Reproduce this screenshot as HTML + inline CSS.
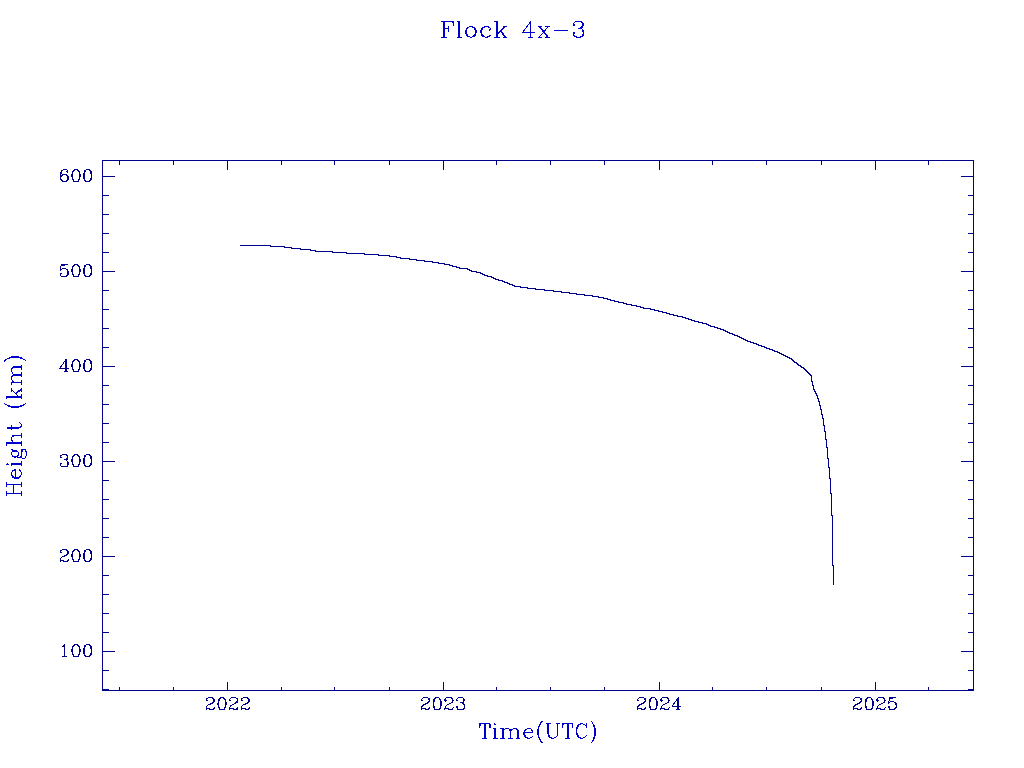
<!DOCTYPE html>
<html><head><meta charset="utf-8"><title>Flock 4x-3</title>
<style>
html,body{margin:0;padding:0;background:#fff;overflow:hidden;font-family:"Liberation Serif",serif}
svg{display:block}
</style></head><body>
<svg width="1024" height="768" viewBox="0 0 1024 768" shape-rendering="crispEdges">
<rect width="1024" height="768" fill="#ffffff"/>
<path fill="#00008b" d="M102 160h872v1h-872zM102 161h1v15h-1zM119 161h1v4h-1zM173 161h1v4h-1zM227 161h1v9h-1zM281 161h1v4h-1zM334 161h1v4h-1zM389 161h1v4h-1zM443 161h1v9h-1zM496 161h1v4h-1zM550 161h1v4h-1zM604 161h1v4h-1zM659 161h1v9h-1zM712 161h1v4h-1zM766 161h1v4h-1zM821 161h1v4h-1zM875 161h1v9h-1zM928 161h1v4h-1zM973 161h1v15h-1zM63 169h4v1h-4zM74 169h4v1h-4zM86 169h4v1h-4zM61 170h2v1h-2zM67 170h1v1h-1zM73 170h2v1h-2zM77 170h2v1h-2zM84 170h2v2h-2zM89 170h2v1h-2zM61 171h1v1h-1zM66 171h2v1h-2zM72 171h2v1h-2zM78 171h2v1h-2zM90 171h2v3h-2zM60 172h2v2h-2zM67 172h1v1h-1zM72 172h1v2h-1zM79 172h1v2h-1zM84 172h1v1h-1zM83 173h2v6h-2zM60 174h1v1h-1zM62 174h5v1h-5zM71 174h2v3h-2zM79 174h2v3h-2zM91 174h1v4h-1zM60 175h3v1h-3zM66 175h2v1h-2zM60 176h2v1h-2zM67 176h2v4h-2zM102 176h13v1h-13zM961 176h13v1h-13zM60 177h1v2h-1zM72 177h1v2h-1zM79 177h1v2h-1zM102 177h1v18h-1zM973 177h1v18h-1zM90 178h2v2h-2zM60 179h2v1h-2zM72 179h2v1h-2zM78 179h2v1h-2zM84 179h1v1h-1zM61 180h2v1h-2zM66 180h2v1h-2zM73 180h1v1h-1zM78 180h1v1h-1zM84 180h2v1h-2zM89 180h2v1h-2zM62 181h5v1h-5zM73 181h6v1h-6zM85 181h5v1h-5zM102 195h7v1h-7zM968 195h6v1h-6zM102 196h1v18h-1zM973 196h1v18h-1zM102 214h7v1h-7zM968 214h6v1h-6zM102 215h1v18h-1zM973 215h1v18h-1zM102 233h7v1h-7zM968 233h6v1h-6zM102 234h1v18h-1zM973 234h1v18h-1zM102 252h7v1h-7zM968 252h6v1h-6zM102 253h1v18h-1zM973 253h1v18h-1zM61 264h7v1h-7zM74 264h4v1h-4zM86 264h4v1h-4zM61 265h4v1h-4zM73 265h2v1h-2zM77 265h2v1h-2zM84 265h2v2h-2zM89 265h2v1h-2zM60 266h1v3h-1zM72 266h2v1h-2zM78 266h2v1h-2zM90 266h2v3h-2zM72 267h1v2h-1zM79 267h1v2h-1zM84 267h1v1h-1zM62 268h4v1h-4zM83 268h2v6h-2zM60 269h2v1h-2zM66 269h2v1h-2zM71 269h2v3h-2zM79 269h2v3h-2zM91 269h1v4h-1zM60 270h1v1h-1zM67 270h1v1h-1zM67 271h2v4h-2zM102 271h13v1h-13zM961 271h13v1h-13zM72 272h1v2h-1zM79 272h1v2h-1zM102 272h1v18h-1zM973 272h1v18h-1zM60 273h2v1h-2zM90 273h2v2h-2zM60 274h1v2h-1zM72 274h2v1h-2zM78 274h2v1h-2zM84 274h1v1h-1zM66 275h2v1h-2zM73 275h1v1h-1zM78 275h1v1h-1zM84 275h2v1h-2zM89 275h2v1h-2zM61 276h6v1h-6zM73 276h6v1h-6zM85 276h5v1h-5zM102 290h7v1h-7zM968 290h6v1h-6zM102 291h1v18h-1zM973 291h1v18h-1zM102 309h7v1h-7zM968 309h6v1h-6zM102 310h1v18h-1zM973 310h1v18h-1zM102 328h7v1h-7zM968 328h6v1h-6zM102 329h1v18h-1zM973 329h1v18h-1zM102 347h7v1h-7zM968 347h6v1h-6zM102 348h1v18h-1zM973 348h1v18h-1zM65 359h2v2h-2zM74 359h4v1h-4zM86 359h4v1h-4zM73 360h2v1h-2zM77 360h2v1h-2zM84 360h2v2h-2zM89 360h2v1h-2zM64 361h3v1h-3zM72 361h2v1h-2zM78 361h2v1h-2zM90 361h2v3h-2zM63 362h1v2h-1zM65 362h2v6h-2zM72 362h1v2h-1zM79 362h1v2h-1zM84 362h1v1h-1zM83 363h2v6h-2zM62 364h1v1h-1zM71 364h2v3h-2zM79 364h2v3h-2zM91 364h1v4h-1zM61 365h1v1h-1zM60 366h2v1h-2zM102 366h13v1h-13zM961 366h13v1h-13zM60 367h1v1h-1zM72 367h1v2h-1zM79 367h1v2h-1zM102 367h1v18h-1zM973 367h1v18h-1zM59 368h10v1h-10zM90 368h2v2h-2zM65 369h2v2h-2zM72 369h2v1h-2zM78 369h2v1h-2zM84 369h1v1h-1zM73 370h1v1h-1zM78 370h1v1h-1zM84 370h2v1h-2zM89 370h2v1h-2zM64 371h4v1h-4zM73 371h6v1h-6zM85 371h5v1h-5zM102 385h7v1h-7zM968 385h6v1h-6zM102 386h1v18h-1zM973 386h1v18h-1zM102 404h7v1h-7zM968 404h6v1h-6zM102 405h1v18h-1zM973 405h1v18h-1zM102 423h7v1h-7zM968 423h6v1h-6zM102 424h1v18h-1zM973 424h1v18h-1zM102 442h7v1h-7zM968 442h6v1h-6zM102 443h1v18h-1zM973 443h1v18h-1zM62 454h5v1h-5zM74 454h4v1h-4zM86 454h4v1h-4zM60 455h2v1h-2zM66 455h2v1h-2zM73 455h2v1h-2zM77 455h2v1h-2zM84 455h2v2h-2zM89 455h2v1h-2zM60 456h1v1h-1zM67 456h1v2h-1zM72 456h2v1h-2zM78 456h2v1h-2zM90 456h2v3h-2zM60 457h2v1h-2zM72 457h1v2h-1zM79 457h1v2h-1zM84 457h1v1h-1zM66 458h2v1h-2zM83 458h2v6h-2zM64 459h4v1h-4zM71 459h2v3h-2zM79 459h2v3h-2zM91 459h1v4h-1zM66 460h1v1h-1zM67 461h1v1h-1zM102 461h13v1h-13zM961 461h13v1h-13zM67 462h2v3h-2zM72 462h1v2h-1zM79 462h1v2h-1zM102 462h1v18h-1zM973 462h1v18h-1zM60 463h2v1h-2zM90 463h2v2h-2zM60 464h1v2h-1zM72 464h2v1h-2zM78 464h2v1h-2zM84 464h1v1h-1zM67 465h1v1h-1zM73 465h1v1h-1zM78 465h1v1h-1zM84 465h2v1h-2zM89 465h2v1h-2zM61 466h7v1h-7zM73 466h6v1h-6zM85 466h5v1h-5zM102 480h7v1h-7zM968 480h6v1h-6zM102 481h1v18h-1zM973 481h1v18h-1zM102 499h7v1h-7zM968 499h6v1h-6zM102 500h1v18h-1zM973 500h1v18h-1zM102 518h7v1h-7zM968 518h6v1h-6zM102 519h1v18h-1zM973 519h1v18h-1zM102 537h7v1h-7zM968 537h6v1h-6zM102 538h1v18h-1zM973 538h1v18h-1zM62 549h5v1h-5zM74 549h4v1h-4zM86 549h4v1h-4zM60 550h2v1h-2zM66 550h2v1h-2zM73 550h2v1h-2zM77 550h2v1h-2zM84 550h2v2h-2zM89 550h2v1h-2zM60 551h1v1h-1zM67 551h2v3h-2zM72 551h2v1h-2zM78 551h2v1h-2zM90 551h2v3h-2zM60 552h2v1h-2zM72 552h1v2h-1zM79 552h1v2h-1zM84 552h1v1h-1zM83 553h2v6h-2zM66 554h2v1h-2zM71 554h2v3h-2zM79 554h2v3h-2zM91 554h1v4h-1zM64 555h3v1h-3zM62 556h3v1h-3zM102 556h13v1h-13zM961 556h13v1h-13zM61 557h1v1h-1zM72 557h1v2h-1zM79 557h1v2h-1zM102 557h1v18h-1zM973 557h1v18h-1zM60 558h1v2h-1zM90 558h2v2h-2zM68 559h1v1h-1zM72 559h2v1h-2zM78 559h2v1h-2zM84 559h1v1h-1zM60 560h4v1h-4zM67 560h2v1h-2zM73 560h1v1h-1zM78 560h1v1h-1zM84 560h2v1h-2zM89 560h2v1h-2zM60 561h1v1h-1zM63 561h5v1h-5zM73 561h6v1h-6zM85 561h5v1h-5zM102 575h7v1h-7zM968 575h6v1h-6zM102 576h1v18h-1zM973 576h1v18h-1zM102 594h7v1h-7zM968 594h6v1h-6zM102 595h1v18h-1zM973 595h1v18h-1zM102 613h7v1h-7zM968 613h6v1h-6zM102 614h1v18h-1zM973 614h1v18h-1zM102 632h7v1h-7zM968 632h6v1h-6zM102 633h1v18h-1zM973 633h1v18h-1zM64 644h1v1h-1zM74 644h4v1h-4zM86 644h4v1h-4zM63 645h2v1h-2zM73 645h2v1h-2zM77 645h2v1h-2zM84 645h2v2h-2zM89 645h2v1h-2zM62 646h3v1h-3zM72 646h2v1h-2zM78 646h2v1h-2zM90 646h2v3h-2zM64 647h1v9h-1zM72 647h1v2h-1zM79 647h1v2h-1zM84 647h1v1h-1zM83 648h2v6h-2zM71 649h2v3h-2zM79 649h2v3h-2zM91 649h1v4h-1zM102 651h13v1h-13zM961 651h13v1h-13zM72 652h1v2h-1zM79 652h1v2h-1zM102 652h1v18h-1zM973 652h1v18h-1zM90 653h2v2h-2zM72 654h2v1h-2zM78 654h2v1h-2zM84 654h1v1h-1zM73 655h1v1h-1zM78 655h1v1h-1zM84 655h2v1h-2zM89 655h2v1h-2zM62 656h5v1h-5zM73 656h6v1h-6zM85 656h5v1h-5zM102 670h7v1h-7zM968 670h6v1h-6zM102 671h1v18h-1zM973 671h1v18h-1zM227 682h1v8h-1zM443 682h1v8h-1zM659 682h1v8h-1zM875 682h1v8h-1zM119 687h1v3h-1zM173 687h1v3h-1zM281 687h1v3h-1zM334 687h1v3h-1zM389 687h1v3h-1zM496 687h1v3h-1zM550 687h1v3h-1zM604 687h1v3h-1zM712 687h1v3h-1zM766 687h1v3h-1zM821 687h1v3h-1zM928 687h1v3h-1zM102 689h7v1h-7zM968 689h6v1h-6zM102 690h872v1h-872zM208 697h5v1h-5zM220 697h4v1h-4zM231 697h5v1h-5zM243 697h5v1h-5zM423 697h5v1h-5zM435 697h4v1h-4zM446 697h6v1h-6zM458 697h5v1h-5zM639 697h5v1h-5zM651 697h4v1h-4zM662 697h6v1h-6zM678 697h1v1h-1zM855 697h5v1h-5zM867 697h4v1h-4zM878 697h6v1h-6zM889 697h7v1h-7zM206 698h2v1h-2zM212 698h2v1h-2zM219 698h2v1h-2zM223 698h2v1h-2zM230 698h1v1h-1zM236 698h2v1h-2zM241 698h2v1h-2zM247 698h2v1h-2zM422 698h1v1h-1zM428 698h2v2h-2zM434 698h2v1h-2zM439 698h1v1h-1zM445 698h1v1h-1zM451 698h2v1h-2zM457 698h1v1h-1zM463 698h1v1h-1zM638 698h1v1h-1zM644 698h2v2h-2zM650 698h2v1h-2zM655 698h1v1h-1zM661 698h1v1h-1zM667 698h2v1h-2zM677 698h2v1h-2zM854 698h1v1h-1zM860 698h2v2h-2zM866 698h2v1h-2zM871 698h1v1h-1zM877 698h1v1h-1zM883 698h2v1h-2zM889 698h4v1h-4zM206 699h1v1h-1zM213 699h2v3h-2zM218 699h2v2h-2zM224 699h2v1h-2zM229 699h1v1h-1zM237 699h1v2h-1zM241 699h1v1h-1zM248 699h2v3h-2zM421 699h1v1h-1zM433 699h2v3h-2zM439 699h2v1h-2zM444 699h2v1h-2zM452 699h1v1h-1zM456 699h1v1h-1zM463 699h2v2h-2zM637 699h1v1h-1zM649 699h2v3h-2zM655 699h2v1h-2zM660 699h2v1h-2zM668 699h1v1h-1zM676 699h3v2h-3zM853 699h1v1h-1zM865 699h2v3h-2zM871 699h2v1h-2zM876 699h2v1h-2zM884 699h1v1h-1zM889 699h1v2h-1zM206 700h2v1h-2zM225 700h1v2h-1zM229 700h2v1h-2zM241 700h2v1h-2zM421 700h2v1h-2zM429 700h1v1h-1zM440 700h1v1h-1zM444 700h3v1h-3zM452 700h2v1h-2zM456 700h2v1h-2zM637 700h2v1h-2zM645 700h1v1h-1zM656 700h1v1h-1zM660 700h3v1h-3zM668 700h2v1h-2zM853 700h2v1h-2zM861 700h1v1h-1zM872 700h1v1h-1zM876 700h3v1h-3zM884 700h2v1h-2zM218 701h1v2h-1zM236 701h2v1h-2zM428 701h2v1h-2zM440 701h2v5h-2zM445 701h1v1h-1zM452 701h1v1h-1zM463 701h1v1h-1zM644 701h2v1h-2zM656 701h2v5h-2zM661 701h1v1h-1zM668 701h1v1h-1zM675 701h1v1h-1zM677 701h2v5h-2zM860 701h2v1h-2zM872 701h2v5h-2zM877 701h1v1h-1zM884 701h1v1h-1zM888 701h1v1h-1zM890 701h4v1h-4zM212 702h2v1h-2zM225 702h2v3h-2zM235 702h3v1h-3zM247 702h2v1h-2zM427 702h2v1h-2zM433 702h1v4h-1zM451 702h2v1h-2zM460 702h4v1h-4zM643 702h2v1h-2zM649 702h1v4h-1zM667 702h2v1h-2zM674 702h1v1h-1zM859 702h2v1h-2zM865 702h1v4h-1zM883 702h2v1h-2zM888 702h2v1h-2zM894 702h2v1h-2zM210 703h3v1h-3zM217 703h2v2h-2zM234 703h2v1h-2zM245 703h3v1h-3zM425 703h3v1h-3zM449 703h2v1h-2zM462 703h2v1h-2zM641 703h3v1h-3zM665 703h2v1h-2zM673 703h2v1h-2zM857 703h3v1h-3zM881 703h2v1h-2zM888 703h1v1h-1zM895 703h2v2h-2zM208 704h3v1h-3zM232 704h2v1h-2zM243 704h3v1h-3zM423 704h3v1h-3zM447 704h2v1h-2zM463 704h2v1h-2zM639 704h3v1h-3zM663 704h2v1h-2zM673 704h1v1h-1zM855 704h3v1h-3zM879 704h2v1h-2zM207 705h1v1h-1zM218 705h1v2h-1zM225 705h1v2h-1zM230 705h2v1h-2zM242 705h1v1h-1zM422 705h2v1h-2zM446 705h1v1h-1zM464 705h1v3h-1zM638 705h2v1h-2zM662 705h1v1h-1zM672 705h1v1h-1zM854 705h2v1h-2zM878 705h1v1h-1zM896 705h1v2h-1zM206 706h1v2h-1zM230 706h1v1h-1zM241 706h1v2h-1zM421 706h2v1h-2zM433 706h2v2h-2zM440 706h1v2h-1zM445 706h1v2h-1zM456 706h2v2h-2zM637 706h2v1h-2zM649 706h2v2h-2zM656 706h1v2h-1zM661 706h1v2h-1zM672 706h9v1h-9zM853 706h2v1h-2zM865 706h2v2h-2zM872 706h1v2h-1zM877 706h1v2h-1zM888 706h2v2h-2zM214 707h1v1h-1zM218 707h2v1h-2zM224 707h2v1h-2zM229 707h1v1h-1zM237 707h1v1h-1zM249 707h1v1h-1zM421 707h1v1h-1zM429 707h1v1h-1zM453 707h1v1h-1zM637 707h1v1h-1zM645 707h1v1h-1zM669 707h1v1h-1zM677 707h2v2h-2zM853 707h1v1h-1zM861 707h1v1h-1zM885 707h1v1h-1zM895 707h2v1h-2zM206 708h4v1h-4zM213 708h2v1h-2zM219 708h1v1h-1zM224 708h1v1h-1zM229 708h5v1h-5zM236 708h2v1h-2zM241 708h5v1h-5zM248 708h2v1h-2zM421 708h5v1h-5zM428 708h2v1h-2zM434 708h1v1h-1zM439 708h2v1h-2zM444 708h5v1h-5zM452 708h1v1h-1zM457 708h1v1h-1zM463 708h2v1h-2zM637 708h5v1h-5zM644 708h2v1h-2zM650 708h1v1h-1zM655 708h2v1h-2zM660 708h5v1h-5zM668 708h1v1h-1zM853 708h5v1h-5zM860 708h2v1h-2zM866 708h1v1h-1zM871 708h2v1h-2zM876 708h5v1h-5zM884 708h1v1h-1zM889 708h1v1h-1zM894 708h2v1h-2zM206 709h1v1h-1zM209 709h5v1h-5zM219 709h6v1h-6zM229 709h1v1h-1zM233 709h5v1h-5zM241 709h1v1h-1zM245 709h4v1h-4zM421 709h1v1h-1zM425 709h4v1h-4zM434 709h6v1h-6zM444 709h1v1h-1zM448 709h5v1h-5zM457 709h7v1h-7zM637 709h1v1h-1zM641 709h4v1h-4zM650 709h6v1h-6zM660 709h1v1h-1zM664 709h5v1h-5zM676 709h4v1h-4zM853 709h1v1h-1zM857 709h4v1h-4zM866 709h6v1h-6zM876 709h1v1h-1zM880 709h5v1h-5zM889 709h6v1h-6z"/>
<path fill="#0000cd" d="M441 21h13v1h-13zM457 21h3v1h-3zM494 21h4v1h-4zM530 21h1v1h-1zM575 21h7v1h-7zM443 22h2v6h-2zM452 22h2v1h-2zM458 22h2v15h-2zM496 22h2v10h-2zM529 22h2v2h-2zM574 22h1v1h-1zM581 22h2v1h-2zM453 23h1v3h-1zM573 23h1v1h-1zM582 23h2v3h-2zM528 24h1v1h-1zM530 24h1v8h-1zM573 24h2v2h-2zM527 25h1v1h-1zM448 26h1v2h-1zM469 26h4v1h-4zM484 26h5v1h-5zM503 26h4v1h-4zM526 26h2v1h-2zM538 26h4v1h-4zM545 26h5v1h-5zM581 26h2v1h-2zM467 27h2v1h-2zM472 27h3v1h-3zM482 27h3v1h-3zM488 27h2v1h-2zM503 27h2v1h-2zM526 27h1v1h-1zM539 27h2v1h-2zM547 27h1v1h-1zM580 27h3v1h-3zM443 28h6v1h-6zM466 28h2v1h-2zM474 28h2v2h-2zM481 28h2v2h-2zM490 28h1v1h-1zM502 28h2v1h-2zM525 28h1v1h-1zM540 28h2v1h-2zM546 28h1v1h-1zM578 28h4v1h-4zM443 29h2v8h-2zM448 29h1v3h-1zM466 29h1v1h-1zM489 29h2v1h-2zM501 29h2v1h-2zM524 29h1v1h-1zM541 29h2v1h-2zM545 29h1v1h-1zM582 29h1v1h-1zM465 30h2v4h-2zM475 30h2v3h-2zM480 30h2v3h-2zM489 30h1v1h-1zM500 30h2v1h-2zM523 30h2v1h-2zM542 30h4v1h-4zM554 30h14v1h-14zM582 30h2v2h-2zM499 31h3v1h-3zM523 31h1v1h-1zM542 31h3v1h-3zM496 32h4v1h-4zM501 32h2v1h-2zM522 32h13v1h-13zM543 32h2v1h-2zM573 32h2v2h-2zM583 32h1v2h-1zM475 33h1v1h-1zM481 33h1v1h-1zM496 33h3v1h-3zM502 33h2v2h-2zM530 33h1v4h-1zM542 33h1v1h-1zM544 33h2v1h-2zM466 34h2v2h-2zM474 34h2v1h-2zM481 34h2v1h-2zM496 34h2v3h-2zM541 34h1v1h-1zM545 34h2v1h-2zM573 34h1v1h-1zM582 34h2v2h-2zM473 35h3v1h-3zM481 35h3v1h-3zM489 35h2v1h-2zM503 35h2v1h-2zM540 35h1v1h-1zM546 35h2v2h-2zM573 35h2v1h-2zM467 36h3v1h-3zM472 36h3v1h-3zM482 36h3v1h-3zM487 36h3v1h-3zM504 36h2v1h-2zM539 36h1v1h-1zM574 36h3v1h-3zM580 36h3v1h-3zM441 37h6v1h-6zM457 37h5v1h-5zM470 37h2v1h-2zM485 37h3v1h-3zM494 37h6v1h-6zM503 37h4v1h-4zM528 37h5v1h-5zM538 37h4v1h-4zM545 37h5v1h-5zM576 37h5v1h-5zM11 356h8v1h-8zM9 357h13v1h-13zM7 358h3v1h-3zM20 358h3v1h-3zM5 359h2v1h-2zM23 359h2v1h-2zM4 360h2v1h-2zM25 360h1v1h-1zM4 361h1v1h-1zM21 365h1v1h-1zM13 366h9v1h-9zM12 367h10v1h-10zM11 368h2v1h-2zM21 368h1v2h-1zM11 369h1v3h-1zM12 372h1v2h-1zM21 372h1v2h-1zM13 374h9v1h-9zM12 375h10v1h-10zM11 376h2v1h-2zM21 376h1v1h-1zM11 377h1v3h-1zM12 380h1v1h-1zM21 380h1v2h-1zM12 381h2v1h-2zM11 382h11v1h-11zM11 383h1v2h-1zM21 383h1v2h-1zM11 388h1v2h-1zM21 388h1v1h-1zM20 389h2v1h-2zM11 390h2v1h-2zM18 390h4v1h-4zM11 391h1v1h-1zM13 391h1v1h-1zM17 391h3v1h-3zM21 391h1v1h-1zM14 392h1v1h-1zM16 392h2v1h-2zM15 393h2v1h-2zM16 394h1v1h-1zM21 394h1v2h-1zM17 395h1v1h-1zM6 396h16v2h-16zM6 398h1v1h-1zM21 398h1v1h-1zM4 403h1v1h-1zM25 403h1v1h-1zM5 404h2v1h-2zM23 404h2v1h-2zM7 405h3v1h-3zM20 405h4v1h-4zM8 406h14v1h-14zM11 407h8v1h-8zM19 422h1v1h-1zM20 423h1v1h-1zM21 424h1v2h-1zM11 425h1v2h-1zM20 426h2v1h-2zM7 427h14v1h-14zM7 428h12v1h-12zM11 429h1v1h-1zM21 433h1v2h-1zM12 435h10v1h-10zM12 436h2v1h-2zM21 436h1v2h-1zM11 437h1v3h-1zM11 440h2v1h-2zM12 441h1v1h-1zM21 441h1v1h-1zM6 442h16v2h-16zM6 444h1v2h-1zM21 444h1v2h-1zM11 449h2v1h-2zM21 449h5v1h-5zM12 450h5v1h-5zM21 450h2v2h-2zM25 450h1v1h-1zM12 451h6v1h-6zM25 451h2v1h-2zM11 452h1v3h-1zM18 452h1v3h-1zM21 452h1v4h-1zM26 452h1v4h-1zM12 455h1v1h-1zM17 455h2v1h-2zM12 456h6v1h-6zM20 456h2v1h-2zM25 456h1v2h-1zM14 457h2v1h-2zM17 457h5v1h-5zM22 458h3v1h-3zM21 461h1v2h-1zM7 463h1v1h-1zM11 463h11v2h-11zM6 464h3v1h-3zM11 465h1v1h-1zM21 465h1v1h-1zM14 469h2v1h-2zM19 469h1v1h-1zM12 470h4v1h-4zM19 470h2v1h-2zM12 471h1v1h-1zM15 471h1v6h-1zM20 471h1v1h-1zM11 472h1v3h-1zM21 472h1v3h-1zM11 475h2v1h-2zM20 475h1v1h-1zM12 476h2v1h-2zM19 476h2v1h-2zM12 477h8v1h-8zM14 478h5v1h-5zM6 482h1v2h-1zM21 482h1v2h-1zM6 484h16v1h-16zM6 485h1v2h-1zM13 485h1v8h-1zM21 485h1v2h-1zM6 491h1v2h-1zM21 491h1v2h-1zM6 493h16v1h-16zM6 494h1v2h-1zM21 494h1v2h-1zM541 721h2v1h-2zM591 721h1v1h-1zM540 722h2v1h-2zM592 722h1v2h-1zM479 723h11v1h-11zM494 723h1v1h-1zM540 723h1v1h-1zM546 723h5v1h-5zM556 723h4v1h-4zM562 723h11v1h-11zM580 723h3v1h-3zM586 723h1v2h-1zM479 724h2v2h-2zM484 724h2v14h-2zM489 724h2v4h-2zM494 724h2v1h-2zM539 724h2v1h-2zM547 724h2v10h-2zM557 724h1v12h-1zM562 724h2v1h-2zM567 724h2v14h-2zM572 724h1v4h-1zM578 724h3v1h-3zM583 724h2v1h-2zM593 724h1v1h-1zM539 725h1v1h-1zM562 725h1v3h-1zM577 725h2v2h-2zM585 725h2v1h-2zM593 725h2v2h-2zM479 726h1v2h-1zM538 726h2v1h-2zM586 726h1v2h-1zM538 727h1v2h-1zM576 727h2v2h-2zM594 727h1v1h-1zM493 728h3v1h-3zM500 728h4v1h-4zM505 728h4v1h-4zM513 728h4v1h-4zM527 728h4v1h-4zM594 728h2v8h-2zM494 729h2v9h-2zM502 729h3v1h-3zM509 729h4v1h-4zM516 729h2v1h-2zM525 729h2v1h-2zM531 729h1v1h-1zM537 729h2v6h-2zM576 729h1v4h-1zM502 730h2v8h-2zM509 730h3v1h-3zM517 730h2v8h-2zM524 730h2v1h-2zM531 730h2v1h-2zM510 731h1v7h-1zM524 731h1v1h-1zM532 731h1v1h-1zM523 732h10v1h-10zM523 733h2v2h-2zM576 733h2v2h-2zM548 734h1v1h-1zM524 735h2v2h-2zM538 735h1v2h-1zM548 735h2v2h-2zM577 735h2v2h-2zM586 735h1v1h-1zM532 736h1v1h-1zM556 736h1v1h-1zM585 736h1v1h-1zM594 736h1v1h-1zM525 737h3v1h-3zM530 737h2v1h-2zM538 737h2v1h-2zM549 737h3v1h-3zM554 737h2v1h-2zM578 737h3v1h-3zM583 737h2v1h-2zM593 737h2v2h-2zM482 738h5v1h-5zM493 738h5v1h-5zM500 738h5v1h-5zM508 738h5v1h-5zM516 738h4v1h-4zM527 738h3v1h-3zM539 738h1v1h-1zM551 738h3v1h-3zM565 738h5v1h-5zM580 738h3v1h-3zM539 739h2v1h-2zM593 739h1v1h-1zM540 740h1v1h-1zM592 740h2v1h-2zM540 741h2v1h-2zM592 741h1v1h-1zM541 742h2v1h-2zM591 742h1v1h-1z"/>
<path fill="#00008b" d="M240 245h31v1h-31zM270 246h15v1h-15zM284 247h8v1h-8zM291 248h10v1h-10zM300 249h11v1h-11zM310 250h6v1h-6zM315 251h18v1h-18zM332 252h15v1h-15zM346 253h19v1h-19zM364 254h15v1h-15zM378 255h12v1h-12zM389 256h8v1h-8zM396 257h5v1h-5zM400 258h10v1h-10zM409 259h8v1h-8zM416 260h9v1h-9zM424 261h9v1h-9zM432 262h7v1h-7zM438 263h7v1h-7zM444 264h6v1h-6zM449 265h4v1h-4zM452 266h5v1h-5zM456 267h4v1h-4zM459 268h9v1h-9zM467 269h3v1h-3zM469 270h3v1h-3zM471 271h6v1h-6zM476 272h5v1h-5zM480 273h3v1h-3zM482 274h3v1h-3zM484 275h4v1h-4zM487 276h5v1h-5zM491 277h3v1h-3zM493 278h3v1h-3zM495 279h4v1h-4zM498 280h5v1h-5zM502 281h3v1h-3zM504 282h4v1h-4zM507 283h3v1h-3zM509 284h4v1h-4zM512 285h3v1h-3zM514 286h7v1h-7zM520 287h8v1h-8zM527 288h9v1h-9zM535 289h10v1h-10zM544 290h10v1h-10zM553 291h9v1h-9zM561 292h9v1h-9zM569 293h8v1h-8zM576 294h9v1h-9zM584 295h9v1h-9zM592 296h7v1h-7zM598 297h6v1h-6zM603 298h5v1h-5zM607 299h4v1h-4zM610 300h5v1h-5zM614 301h5v1h-5zM618 302h6v1h-6zM623 303h4v1h-4zM626 304h6v1h-6zM631 305h6v1h-6zM636 306h5v1h-5zM640 307h4v1h-4zM643 308h8v1h-8zM650 309h5v1h-5zM654 310h5v1h-5zM658 311h5v1h-5zM662 312h5v1h-5zM666 313h4v1h-4zM669 314h5v1h-5zM673 315h5v1h-5zM677 316h6v1h-6zM682 317h4v1h-4zM685 318h4v1h-4zM688 319h4v1h-4zM691 320h4v1h-4zM694 321h5v1h-5zM698 322h5v1h-5zM702 323h5v1h-5zM706 324h3v1h-3zM708 325h3v1h-3zM710 326h5v1h-5zM714 327h4v1h-4zM717 328h4v1h-4zM720 329h4v1h-4zM723 330h3v1h-3zM725 331h3v1h-3zM727 332h3v1h-3zM729 333h4v1h-4zM732 334h3v1h-3zM734 335h4v1h-4zM737 336h3v1h-3zM739 337h3v1h-3zM741 338h3v1h-3zM743 339h3v1h-3zM745 340h3v1h-3zM747 341h4v1h-4zM750 342h4v1h-4zM753 343h4v1h-4zM756 344h3v1h-3zM758 345h4v1h-4zM761 346h4v1h-4zM764 347h3v1h-3zM766 348h4v1h-4zM769 349h4v1h-4zM772 350h3v1h-3zM774 351h4v1h-4zM777 352h3v1h-3zM779 353h3v1h-3zM781 354h3v1h-3zM783 355h3v1h-3zM785 356h3v1h-3zM787 357h3v1h-3zM789 358h3v1h-3zM791 359h2v1h-2zM792 360h2v1h-2zM793 361h2v1h-2zM794 362h3v1h-3zM796 363h2v1h-2zM797 364h2v1h-2zM798 365h3v1h-3zM800 366h2v1h-2zM801 367h3v1h-3zM803 368h2v1h-2zM804 369h2v1h-2zM805 370h2v1h-2zM806 371h2v1h-2zM807 372h2v1h-2zM808 373h2v1h-2zM809 374h2v1h-2zM810 375h2v1h-2zM811 376h1v5h-1zM811 381h2v1h-2zM812 382h1v3h-1zM812 385h2v1h-2zM813 386h1v3h-1zM813 389h2v1h-2zM814 390h1v1h-1zM814 391h2v1h-2zM815 392h1v1h-1zM815 393h2v1h-2zM816 394h1v1h-1zM816 395h2v1h-2zM817 396h1v2h-1zM817 398h2v1h-2zM818 399h1v2h-1zM818 401h2v1h-2zM819 402h1v3h-1zM819 405h2v1h-2zM820 406h1v3h-1zM820 409h2v1h-2zM821 410h1v4h-1zM821 414h2v1h-2zM822 415h1v3h-1zM822 418h2v1h-2zM823 419h1v6h-1zM823 425h2v1h-2zM824 426h1v5h-1zM824 431h2v1h-2zM825 432h1v7h-1zM825 439h2v1h-2zM826 440h1v7h-1zM826 447h2v1h-2zM827 448h1v10h-1zM827 458h2v1h-2zM828 459h1v8h-1zM828 467h2v1h-2zM829 468h1v10h-1zM829 478h2v1h-2zM830 479h1v14h-1zM830 493h2v1h-2zM831 494h1v21h-1zM831 515h2v1h-2zM832 516h1v49h-1zM832 565h2v1h-2zM833 566h1v19h-1z"/>
</svg>
</body></html>
